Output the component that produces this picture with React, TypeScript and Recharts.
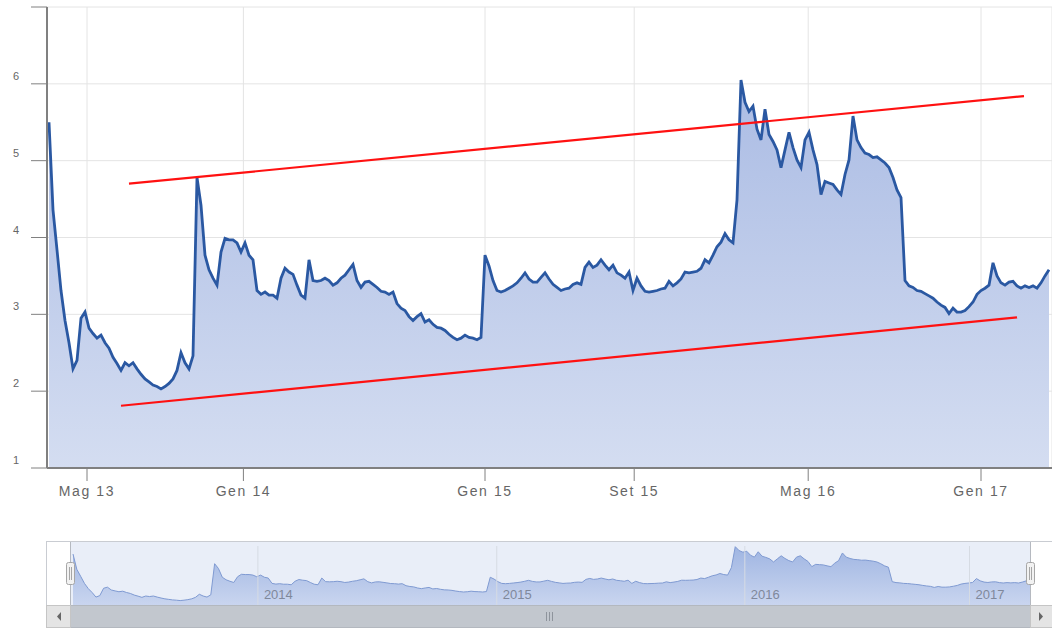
import React from 'react';
import { AreaChart, Area, XAxis, YAxis, CartesianGrid, ReferenceLine } from 'recharts';

// prezzo, una rilevazione per passo (asse ordinale)
const prices = [
  5.5, 4.36, 3.84, 3.31, 2.92, 2.63, 2.29, 2.4, 2.95, 3.03,
  2.82, 2.75, 2.69, 2.73, 2.63, 2.56, 2.44, 2.36, 2.27, 2.37,
  2.33, 2.37, 2.29, 2.22, 2.16, 2.12, 2.08, 2.06, 2.03, 2.06,
  2.1, 2.16, 2.27, 2.5, 2.37, 2.29, 2.46, 4.78, 4.42, 3.77,
  3.58, 3.47, 3.38, 3.81, 3.99, 3.97, 3.97, 3.93, 3.81, 3.93,
  3.77, 3.71, 3.31, 3.26, 3.29, 3.25, 3.25, 3.21, 3.47, 3.6,
  3.55, 3.52, 3.38, 3.25, 3.21, 3.71, 3.44, 3.43, 3.44, 3.47,
  3.44, 3.38, 3.41, 3.47, 3.51, 3.58, 3.65, 3.44, 3.35, 3.42,
  3.43, 3.39, 3.35, 3.3, 3.29, 3.26, 3.29, 3.14, 3.08, 3.05,
  2.97, 2.92, 2.97, 3.01, 2.9, 2.93, 2.87, 2.83, 2.82, 2.79,
  2.74, 2.7, 2.67, 2.69, 2.73, 2.7, 2.69, 2.67, 2.7, 3.77,
  3.63, 3.44, 3.31, 3.29, 3.31, 3.34, 3.37, 3.41, 3.47, 3.54,
  3.46, 3.42, 3.42, 3.48, 3.54, 3.46, 3.39, 3.35, 3.31, 3.33,
  3.34, 3.39, 3.41, 3.39, 3.61, 3.68, 3.61, 3.64, 3.71, 3.64,
  3.58, 3.64, 3.54, 3.51, 3.47, 3.55, 3.31, 3.47, 3.37, 3.3,
  3.29, 3.3, 3.31, 3.33, 3.34, 3.43, 3.37, 3.41, 3.46, 3.55,
  3.54, 3.55, 3.56, 3.6, 3.71, 3.67, 3.77, 3.88, 3.94, 4.05,
  3.97, 3.93, 4.49, 6.05, 5.76, 5.64, 5.71, 5.41, 5.27, 5.67,
  5.34, 5.25, 5.14, 4.91, 5.14, 5.37, 5.17, 5.01, 4.91, 5.27,
  5.37, 5.14, 4.95, 4.56, 4.73, 4.71, 4.69, 4.62, 4.56, 4.82,
  5.01, 5.58, 5.27, 5.17, 5.1, 5.08, 5.04, 5.05, 5.01, 4.97,
  4.91, 4.78, 4.62, 4.52, 3.44, 3.37, 3.35, 3.31, 3.3, 3.27,
  3.24, 3.21, 3.16, 3.12, 3.09, 3.01, 3.08, 3.03, 3.03, 3.05,
  3.1, 3.16, 3.26, 3.31, 3.34, 3.38, 3.67, 3.5, 3.41, 3.38,
  3.42, 3.43, 3.37, 3.34, 3.37, 3.35, 3.37, 3.34, 3.41, 3.5,
  3.58,
];

const monthTicks = [9.5, 48.6, 109, 146.3, 189.8, 233];
const monthLabels = ['Mag 13', 'Gen 14', 'Gen 15', 'Set 15', 'Mag 16', 'Gen 17'];
const priceTicks = [1, 2, 3, 4, 5, 6, 7];

const yearTicks = [48.3, 110.7, 175.5, 234.2];
const yearLabels = ['2014', '2015', '2016', '2017'];

// trendline disegnate a mano
const upperTrend = [{ x: 20, y: 4.7 }, { x: 243.75, y: 5.84 }];
const lowerTrend = [{ x: 18, y: 1.81 }, { x: 242, y: 2.96 }];

const rows = prices.map((v, i) => ({ i, v }));

const FONT = '"Liberation Sans", Arial, sans-serif';

const PriceTick = (props: any) => {
    const { x, y, payload } = props;
    if (payload.value === 7) return <g />;
    return (
        <text x={x} y={y - 8} textAnchor="end" dominantBaseline="central" fontSize={11} fill="#666" fontFamily={FONT}>
            {payload.value}
        </text>
    );
};

export default function App() {
    return (
        <div style={{ position: 'absolute', left: 0, top: 0, width: 1052, height: 628, background: '#fff', overflow: 'hidden' }}>
            <div style={{ position: 'absolute', left: 0, top: 0 }}>
                <AreaChart width={1052} height={510} data={rows} margin={{ top: 7, right: 0, bottom: 0, left: 0 }}>
                    <defs>
                        <linearGradient id="mainFill" x1="0" y1="0" x2="0" y2="1">
                            <stop offset="0%" stopColor="#abbce4" />
                            <stop offset="100%" stopColor="#d4ddf1" />
                        </linearGradient>
                    </defs>
                    <CartesianGrid stroke="#e4e4e4" />
                    <XAxis
                        type="number"
                        dataKey="i"
                        domain={[-0.5, 250.75]}
                        ticks={monthTicks}
                        tickFormatter={(v: number) => monthLabels[monthTicks.indexOf(v)]}
                        allowDataOverflow
                        height={42}
                        tickSize={13}
                        tickMargin={5}
                        axisLine={{ stroke: '#808080', strokeWidth: 2 }}
                        tickLine={{ stroke: '#808080' }}
                        tick={{ fontSize: 14, fill: '#666', fontFamily: FONT, letterSpacing: 1.6 }}
                    />
                    <YAxis
                        type="number"
                        domain={[1, 7]}
                        ticks={priceTicks}
                        width={47}
                        tickSize={16}
                        tickMargin={12}
                        axisLine={{ stroke: '#808080', strokeWidth: 2 }}
                        tickLine={{ stroke: '#808080' }}
                        tick={<PriceTick />}
                    />
                    <Area
                        type="linear"
                        dataKey="v"
                        stroke="#2a58a2"
                        strokeWidth={2.8}
                        fill="url(#mainFill)"
                        fillOpacity={1}
                        dot={false}
                        activeDot={false}
                        isAnimationActive={false}
                    />
                    <ReferenceLine segment={upperTrend} stroke="#ff1111" strokeWidth={2.2} ifOverflow="visible" />
                    <ReferenceLine segment={lowerTrend} stroke="#ff1111" strokeWidth={2.2} ifOverflow="visible" />
                </AreaChart>
            </div>

            {/* navigator */}
            <div style={{ position: 'absolute', left: 70, top: 542, width: 960, height: 63, background: '#e9eef8' }} />
            <div style={{ position: 'absolute', left: 0, top: 541 }}>
                <AreaChart width={1052} height={87} data={rows} margin={{ top: 5, right: 22, bottom: 23, left: 73 }}>
                    <defs>
                        <linearGradient id="navFill" x1="0" y1="0" x2="0" y2="1">
                            <stop offset="0%" stopColor="#9fb5e2" />
                            <stop offset="100%" stopColor="#c9d5ef" />
                        </linearGradient>
                    </defs>
                    <XAxis type="number" dataKey="i" domain={[0, 250]} hide />
                    <YAxis type="number" domain={[1.7, 6.1]} hide />
                    {yearTicks.map((t, k) => (
                        <ReferenceLine
                            key={yearLabels[k]}
                            x={t}
                            stroke="#d6dbe3"
                            label={{ value: yearLabels[k], position: 'insideBottomLeft', offset: 6, fill: '#7f889b', fontSize: 13, fontFamily: FONT }}
                        />
                    ))}
                    <Area
                        type="linear"
                        dataKey="v"
                        stroke="#7f9ad2"
                        strokeWidth={1}
                        fill="url(#navFill)"
                        fillOpacity={1}
                        dot={false}
                        activeDot={false}
                        isAnimationActive={false}
                    />
                </AreaChart>
            </div>
            <svg width={1052} height={628} style={{ position: 'absolute', left: 0, top: 0, pointerEvents: 'none' }}>
                <rect x={46.5} y={541.5} width={1010} height={64} fill="none" stroke="#c9ccd2" />
                <line x1={70.5} y1={542} x2={70.5} y2={605} stroke="#b5b9c0" />
                <line x1={1030.5} y1={542} x2={1030.5} y2={605} stroke="#b5b9c0" />
                <rect x={66.5} y={562.5} width={8} height={22} rx={2} fill="#f2f2f2" stroke="#a6a6a6" />
                <rect x={1026.5} y={562.5} width={8} height={22} rx={2} fill="#f2f2f2" stroke="#a6a6a6" />
                <line x1={69.5} y1={567} x2={69.5} y2={580} stroke="#a6a6a6" />
                <line x1={71.5} y1={567} x2={71.5} y2={580} stroke="#a6a6a6" />
                <line x1={1029.5} y1={567} x2={1029.5} y2={580} stroke="#a6a6a6" />
                <line x1={1031.5} y1={567} x2={1031.5} y2={580} stroke="#a6a6a6" />
                {/* scrollbar */}
                <rect x={46} y={605} width={1006} height={23} fill="#eeeeee" />
                <rect x={70.5} y={605.5} width={960} height={22} fill="#c2c7ce" stroke="#b3b8bf" />
                <rect x={46.5} y={605.5} width={24} height={22} fill="#e4e4e4" stroke="#c5c5c5" />
                <rect x={1030.5} y={605.5} width={22} height={22} fill="#e4e4e4" stroke="#c5c5c5" />
                <path d="M61 612 L57 616.5 L61 621 Z" fill="#666" />
                <path d="M1039 612 L1043 616.5 L1039 621 Z" fill="#666" />
                <line x1={546.5} y1={612} x2={546.5} y2={621} stroke="#8e949c" />
                <line x1={549.5} y1={612} x2={549.5} y2={621} stroke="#8e949c" />
                <line x1={552.5} y1={612} x2={552.5} y2={621} stroke="#8e949c" />
            </svg>
        </div>
    );
}
